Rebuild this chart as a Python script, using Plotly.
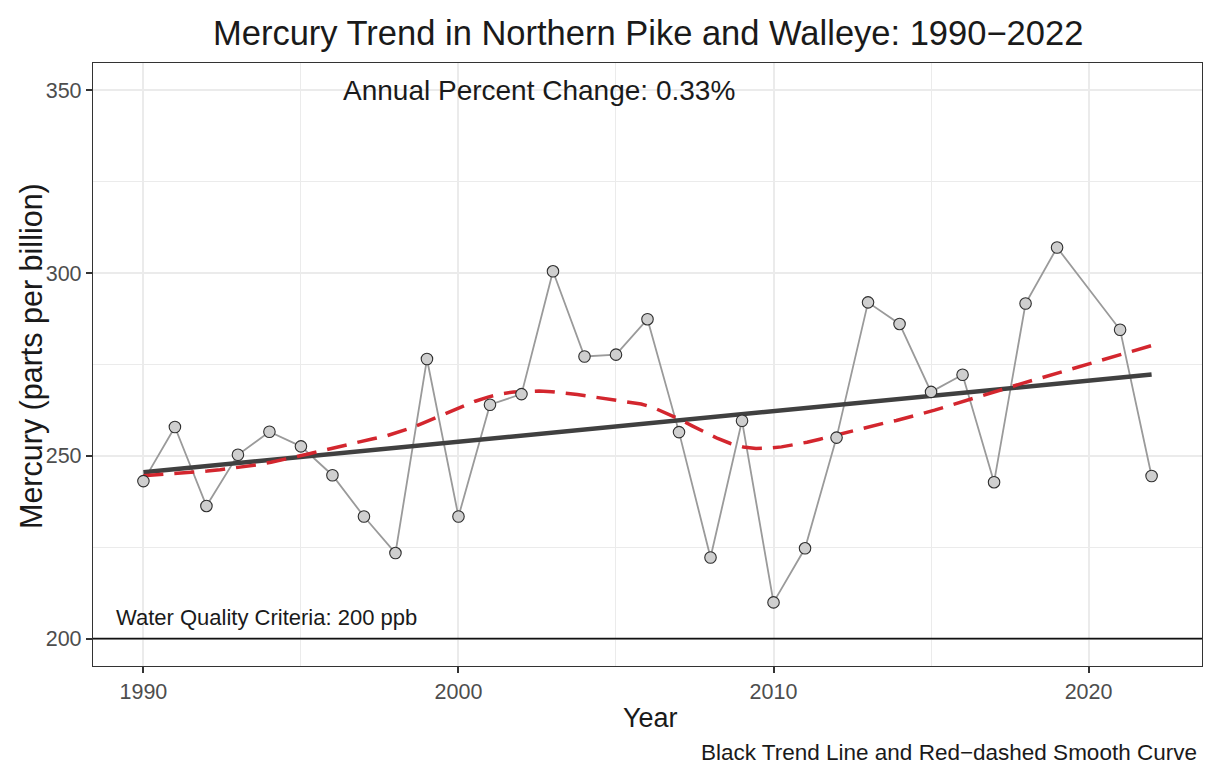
import numpy as np
import plotly.graph_objects as go

# ---- data ----
years = [1990, 1991, 1992, 1993, 1994, 1995, 1996, 1997, 1998, 1999,
         2000, 2001, 2002, 2003, 2004, 2005, 2006, 2007, 2008, 2009,
         2010, 2011, 2012, 2013, 2014, 2015, 2016, 2017, 2018, 2019,
         2021, 2022]
mercury = [243.1, 257.9, 236.3, 250.3, 256.6, 252.6, 244.7, 233.4, 223.4, 276.5,
           233.4, 264.0, 266.9, 300.5, 277.2, 277.7, 287.4, 256.5, 222.2, 259.6,
           209.9, 224.7, 255.0, 292.0, 286.1, 267.5, 272.2, 242.8, 291.7, 307.0,
           284.5, 244.5]
criteria = 200
x_ticks = [1990, 2000, 2010, 2020]
y_ticks = [200, 250, 300, 350]

title = "Mercury Trend in Northern Pike and Walleye: 1990\u22122022"
apc_label = "Annual Percent Change: 0.33%"
criteria_label = "Water Quality Criteria: 200 ppb"
caption = "Black Trend Line and Red\u2212dashed Smooth Curve"
x_title = "Year"
y_title = "Mercury (parts per billion)"

x = np.array(years, dtype=float)
y = np.array(mercury, dtype=float)

# ---- log-linear trend fit ----
b, a = np.polyfit(x - x.min(), np.log(y), 1)
trend_x = np.array([x.min(), x.max()])
trend_y = np.exp(a + b * (trend_x - x.min()))

# ---- loess smooth (span 0.75, degree 2, tricube), kd-tree vertices + Hermite interpolation ----
def local_fit(xs, ys, x0, q):
    d = np.abs(xs - x0)
    h = np.sort(d)[q - 1]
    w = np.clip(1 - (d / h) ** 3, 0, None) ** 3
    X = np.column_stack([np.ones(len(xs)), xs - x0, (xs - x0) ** 2])
    W = np.sqrt(w)
    beta, *_ = np.linalg.lstsq(X * W[:, None], ys * W, rcond=None)
    return beta[0], beta[1]

def loess(xs, ys, xnew, span=0.75, cell=0.2):
    n = len(xs)
    q = int(np.floor(n * span))
    fc = int(np.floor(n * span * cell))
    xs_sorted = np.sort(xs)
    verts = {xs_sorted[0], xs_sorted[-1]}

    def split(lo, hi):
        if hi - lo + 1 <= fc:
            return
        m = (lo + hi) // 2
        v = (xs_sorted[m] + xs_sorted[m + 1]) / 2
        verts.add(v)
        split(lo, m)
        split(m + 1, hi)

    split(0, n - 1)
    vx = np.array(sorted(verts))
    fits = [local_fit(xs, ys, v, q) for v in vx]
    vy = np.array([f[0] for f in fits])
    vd = np.array([f[1] for f in fits])
    out = []
    for x0 in xnew:
        i = min(max(np.searchsorted(vx, x0) - 1, 0), len(vx) - 2)
        x1, x2 = vx[i], vx[i + 1]
        hh = x2 - x1
        t = (x0 - x1) / hh
        h00 = 2 * t**3 - 3 * t**2 + 1
        h10 = t**3 - 2 * t**2 + t
        h01 = -2 * t**3 + 3 * t**2
        h11 = t**3 - t**2
        out.append(h00 * vy[i] + h10 * hh * vd[i] + h01 * vy[i + 1] + h11 * hh * vd[i + 1])
    return np.array(out)

smooth_x = np.linspace(x.min(), x.max(), 80)
smooth_y = loess(x, y, smooth_x)

FONT = "Liberation Sans, Arial, Helvetica, sans-serif"
DARK = "#1a1a1a"

# plot-area geometry (pixels)
W_PX, H_PX = 1205, 767
ML, MR, MT, MB = 93, 3, 63, 101
PW, PH = W_PX - ML - MR, H_PX - MT - MB

def px(xp):
    return (xp - ML) / PW

def py(yp):
    return (H_PX - MB - yp) / PH

fig = go.Figure()
fig.add_trace(go.Scatter(x=x, y=y, mode="lines",
                         line=dict(color="#9a9a9a", width=1.8),
                         hoverinfo="skip", showlegend=False))
fig.add_trace(go.Scatter(x=trend_x, y=trend_y, mode="lines",
                         line=dict(color="#404040", width=4.5),
                         showlegend=False))
fig.add_trace(go.Scatter(x=smooth_x, y=smooth_y, mode="lines",
                         line=dict(color="#d3262e", width=3.5, dash="20px,11px"),
                         showlegend=False))
fig.add_trace(go.Scatter(x=x, y=y, mode="markers",
                         marker=dict(size=11.5, color="#cfcfcf",
                                     line=dict(color="#2e2e2e", width=1.1)),
                         showlegend=False))

fig.add_shape(type="line", xref="paper", yref="y", x0=0, x1=1,
              y0=criteria, y1=criteria, line=dict(color="#111111", width=1.6))

fig.add_annotation(x=2002.55, y=350, xref="x", yref="y", text=apc_label,
                   showarrow=False, font=dict(family=FONT, size=28, color=DARK))
fig.add_annotation(x=1993.9, y=205.8, xref="x", yref="y", text=criteria_label,
                   showarrow=False, font=dict(family=FONT, size=22, color=DARK))
fig.add_annotation(x=px(1199), y=py(752), xref="paper", yref="paper", text=caption,
                   showarrow=False, xanchor="right", yanchor="middle",
                   font=dict(family=FONT, size=22.5, color=DARK))
fig.add_annotation(x=px(648), y=py(33), xref="paper", yref="paper", text=title,
                   showarrow=False, xanchor="center", yanchor="middle",
                   font=dict(family=FONT, size=34.5, color=DARK))
fig.add_annotation(x=px(650), y=py(718), xref="paper", yref="paper", text=x_title,
                   showarrow=False, xanchor="center", yanchor="middle",
                   font=dict(family=FONT, size=27, color=DARK))
fig.add_annotation(x=px(31), y=py(356), xref="paper", yref="paper", text=y_title,
                   showarrow=False, xanchor="center", yanchor="middle", textangle=-90,
                   font=dict(family=FONT, size=30.5, color=DARK))

axis_common = dict(showline=True, mirror=True, linecolor="#333333", linewidth=1.3,
                   ticks="outside", ticklen=6, tickwidth=1.5, tickcolor="#333333",
                   showgrid=True, gridcolor="#ebebeb", gridwidth=1.6, zeroline=False,
                   automargin=False,
                   tickfont=dict(family=FONT, size=21.5, color="#4d4d4d"))

fig.update_xaxes(range=[1988.4, 2023.6], tickvals=x_ticks,
                 minor=dict(tickvals=[1995, 2005, 2015], showgrid=True,
                            gridcolor="#ebebeb", gridwidth=1, ticks=""),
                 **axis_common)
fig.update_yaxes(range=[192.5, 357.5], tickvals=y_ticks,
                 minor=dict(tickvals=[225, 275, 325], showgrid=True,
                            gridcolor="#ebebeb", gridwidth=1, ticks=""),
                 **axis_common)

fig.update_layout(
    width=W_PX, height=H_PX,
    margin=dict(l=ML, r=MR, t=MT, b=MB),
    paper_bgcolor="white", plot_bgcolor="white",
    showlegend=False,
)

# remove the default page margin so the figure sits at the window's top-left corner
fig.write_html("out.html", config={"displayModeBar": False},
               post_script="document.body.style.margin='0';document.body.style.overflow='hidden';")
